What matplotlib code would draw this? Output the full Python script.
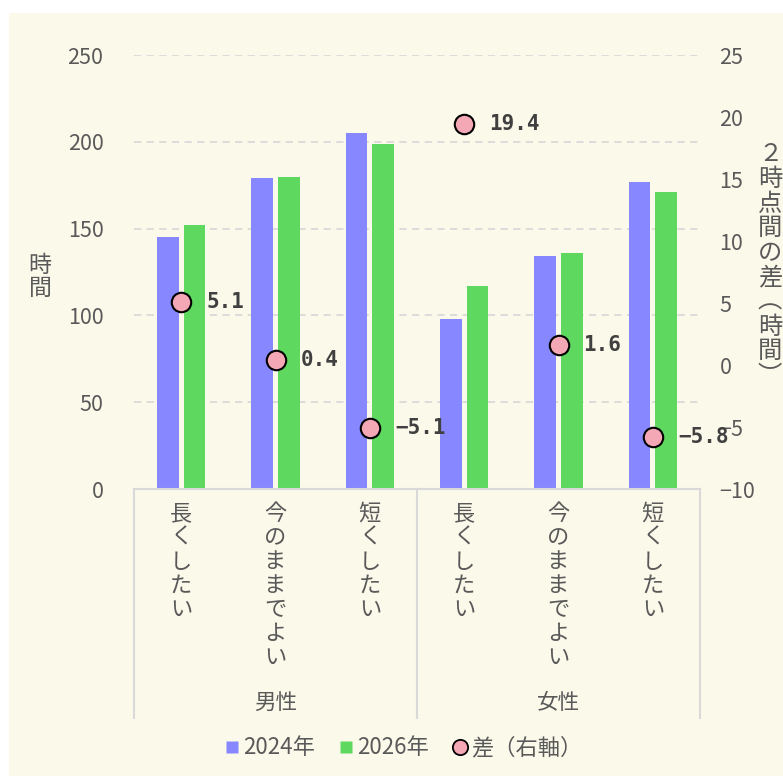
import matplotlib.pyplot as plt
from matplotlib.lines import Line2D
import numpy as np

plt.rcParams['font.family'] = ['Noto Sans CJK JP', 'DejaVu Sans']

# data
groups = ['男性', '女性']
answers = ['長くしたい', '今のままでよい', '短くしたい']
y2024 = [145, 179, 205, 98, 134, 177]
y2026 = [152, 180, 199, 117, 136, 171]
diff = [5.1, 0.4, -5.1, 19.4, 1.6, -5.8]
series_names = ['2024年', '2026年', '差（右軸）']

c_blue = '#8787ff'
c_green = '#5fd85f'
c_pink = '#f4a7b5'
c_text = '#595959'
c_line = '#d9d9d9'
bg = '#fbf9ea'

fig = plt.figure(figsize=(7.83, 7.76), dpi=100)
fig.patch.set_facecolor('white')
fig.add_artist(plt.Rectangle((9 / 783, 0), 1, 1 - 13 / 776, transform=fig.transFigure,
                             facecolor=bg, edgecolor='none', zorder=-10))

ax = fig.add_axes([134 / 783, 1 - 489 / 776, (700 - 134) / 783, (489 - 55) / 776])
ax.set_facecolor('none')
x = np.arange(len(y2024))
w = 0.23
ax.bar(x - 0.14, y2024, w, color=c_blue, zorder=2)
ax.bar(x + 0.14, y2026, w, color=c_green, zorder=2)
ax.set_xlim(-0.5, 5.5)
ax.set_ylim(0, 250)
ax.set_yticks(range(0, 251, 50))
for v in range(50, 251, 50):
    ax.axhline(v, color=c_line, lw=1.3, ls=(0, (4, 3)), zorder=1)
for s in ['top', 'right', 'left']:
    ax.spines[s].set_visible(False)
ax.spines['bottom'].set_color(c_line)
ax.spines['bottom'].set_linewidth(1.5)
ax.set_xticks([])
ax.tick_params(axis='y', length=0, pad=22, labelsize=15.5, labelcolor=c_text)

ax2 = ax.twinx()
ax2.set_ylim(-10, 25)
ax2.set_yticks(range(-10, 26, 5))
for s in ax2.spines.values():
    s.set_visible(False)
ax2.tick_params(axis='y', length=0, pad=14, labelsize=15.5, labelcolor=c_text)
ax2.plot(x, diff, 'o', ms=14, mfc=c_pink, mec='black', mew=1.5, zorder=5)
for xi, d in zip(x, diff):
    ax2.annotate(f'{d:.1f}'.replace('-', '−'), (xi, d), xytext=(18, 0), textcoords='offset points',
                 ha='left', va='center', fontsize=15, fontweight='bold', color='#404040',
                 family=['DejaVu Sans Mono'])

# category labels (vertical)
trans = ax.get_xaxis_transform()
for i in range(6):
    lab = answers[i % 3]
    ax.text(i, -0.03, '\n'.join(lab), transform=trans, ha='center', va='top',
            fontsize=16, color=c_text, linespacing=1.05)
for gi, g in enumerate(groups):
    ax.text(gi * 3 + 1, -0.493, g, transform=trans, ha='center', va='center',
            fontsize=15.5, color=c_text)
for xv in [-0.5, 2.5, 5.5]:
    ax.add_line(Line2D([xv, xv], [0, -0.528], transform=trans, color=c_line, lw=1.5, clip_on=False))

# axis titles
fig.text(40 / 783, 1 - 277 / 776, '時\n間', ha='center', va='center', fontsize=16.5,
         color=c_text, linespacing=1.0)
fig.text(770 / 783, 1 - 265 / 776, '\n'.join('２時点間の差︵時間︶'), ha='center', va='center',
         fontsize=17.5, color=c_text, linespacing=0.93)

handles = [
    Line2D([], [], marker='s', ls='none', ms=9, mfc=c_blue, mec='none'),
    Line2D([], [], marker='s', ls='none', ms=9, mfc=c_green, mec='none'),
    Line2D([], [], marker='o', ls='none', ms=11, mfc=c_pink, mec='black', mew=1.3),
]
leg = fig.legend(handles, series_names, loc='center', bbox_to_anchor=(0.516, 1 - 748 / 776),
                 ncol=3, frameon=False, fontsize=16, handlelength=0.6, handletextpad=0.2,
                 columnspacing=1.1, labelcolor=c_text)

fig.savefig('out.png', dpi=100, facecolor=fig.get_facecolor())
